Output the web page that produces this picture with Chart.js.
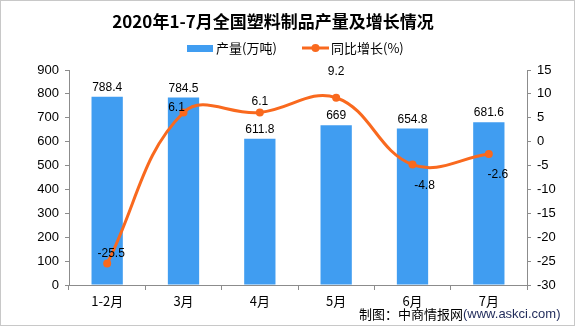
<!DOCTYPE html>
<html>
<head>
<meta charset="utf-8">
<script src="https://cdn.jsdelivr.net/npm/chart.js@4.4.1/dist/chart.umd.min.js"></script>
<style>
  html, body { margin: 0; padding: 0; background: #fff; }
  #wrap { width: 575px; height: 326px; position: relative; }
</style>
</head>
<body>
<div id="wrap"><canvas id="chart" width="575" height="326"></canvas></div>
<script>
// --- data ---
const months = ['1-2月', '3月', '4月', '5月', '6月', '7月'];
const output = [788.4, 784.5, 611.8, 669, 654.8, 681.6];   // 产量(万吨)
const growth = [-25.5, 6.1, 6.1, 9.2, -4.8, -2.6];         // 同比增长(%)
const leftTicks = [0, 900, 100];
const rightTicks = [-30, 15, 5];

const BLUE = '#409DF1';
const ORANGE = '#F9691E';
const AXIS = '#8c8c8c';
const CJK = '"Noto Sans CJK SC", "Liberation Sans", sans-serif';
const NUM = '"Liberation Sans", Arial, sans-serif';

// label nudges for the growth values (px)
const growthLabelShift = [[4, -10], [-7, -5], [0, -11], [0, -26], [12, 21], [9, 21]];

// background, border, title, legend, source
const decor = {
    id: 'decor',
    beforeDraw(chart) {
        const c = chart.ctx;
        c.save();
        c.fillStyle = '#fff';
        c.fillRect(0, 0, chart.width, chart.height);
        c.restore();
    },
    afterDraw(chart) {
        const c = chart.ctx;
        c.save();
        c.strokeStyle = '#c8c8c8';
        c.lineWidth = 1;
        c.strokeRect(0.5, 0.5, chart.width - 1, chart.height - 1);

        c.fillStyle = '#000';
        c.textAlign = 'center';
        c.textBaseline = 'middle';
        c.font = 'bold 17px ' + CJK;
        c.fillText('2020年1-7月全国塑料制品产量及增长情况', 273, 22);

        // legend
        c.font = '13px ' + CJK;
        c.textAlign = 'left';
        c.fillStyle = BLUE;
        c.fillRect(187, 45, 26, 7);
        c.fillStyle = '#000';
        c.fillText('产量(万吨)', 216, 48);
        c.strokeStyle = ORANGE;
        c.lineWidth = 3;
        c.beginPath(); c.moveTo(302, 48); c.lineTo(329, 48); c.stroke();
        c.fillStyle = ORANGE;
        c.beginPath(); c.arc(315.5, 48, 4, 0, Math.PI * 2); c.fill();
        c.fillStyle = '#000';
        c.fillText('同比增长(%)', 331, 48);

        // source
        c.font = '13px ' + CJK;
        const s1 = '制图：中商情报网';
        c.fillText(s1, 359, 314);
        const w = c.measureText(s1).width;
        c.fillStyle = '#1f2a5a';
        c.font = '13px ' + NUM;
        c.fillText('(www.askci.com)', 359 + w, 314);
        c.restore();
    }
};

// value labels
const valueLabels = {
    id: 'valueLabels',
    afterDatasetsDraw(chart) {
        const c = chart.ctx;
        c.save();
        c.font = '12px ' + NUM;
        c.fillStyle = '#000';
        c.textAlign = 'center';
        c.textBaseline = 'middle';
        chart.getDatasetMeta(1).data.forEach((bar, i) => {
            c.fillText(String(output[i]), bar.x, bar.y - 9);
        });
        chart.getDatasetMeta(0).data.forEach((pt, i) => {
            const s = growthLabelShift[i];
            c.fillText(String(growth[i]), pt.x + s[0], pt.y + s[1]);
        });
        c.restore();
    }
};

new Chart(document.getElementById('chart'), {
    data: {
        labels: months,
        datasets: [
            {
                type: 'line',
                label: '同比增长(%)',
                data: growth,
                yAxisID: 'y1',
                borderColor: ORANGE,
                backgroundColor: ORANGE,
                borderWidth: 3,
                tension: 0.4,
                pointRadius: 4,
                pointBackgroundColor: ORANGE,
                pointBorderWidth: 0,
                order: 0
            },
            {
                type: 'bar',
                label: '产量(万吨)',
                data: output,
                yAxisID: 'y',
                backgroundColor: BLUE,
                categoryPercentage: 1,
                barPercentage: 0.41,
                order: 1
            }
        ]
    },
    options: {
        responsive: false,
        animation: false,
        layout: { padding: { top: 70, left: 0, right: 0, bottom: 0 } },
        plugins: { legend: { display: false }, title: { display: false }, tooltip: { enabled: false } },
        scales: {
            x: {
                offset: true,
                grid: { offset: true, drawOnChartArea: false, drawTicks: true, tickLength: 5, color: AXIS },
                border: { color: AXIS, width: 1 },
                ticks: { color: '#000', font: { family: CJK, size: 13 }, padding: 3, maxRotation: 0 },
                afterFit(s) { s.height = 41; }
            },
            y: {
                position: 'left',
                min: leftTicks[0], max: leftTicks[1],
                ticks: { stepSize: leftTicks[2], color: '#000', font: { family: NUM, size: 13 }, padding: 6 },
                grid: { drawOnChartArea: false, drawTicks: true, tickLength: 4, color: AXIS },
                border: { color: AXIS, width: 1 },
                afterFit(s) { s.width = 69; }
            },
            y1: {
                position: 'right',
                min: rightTicks[0], max: rightTicks[1],
                ticks: { stepSize: rightTicks[2], color: '#000', font: { family: NUM, size: 13 }, padding: 6 },
                grid: { drawOnChartArea: false, drawTicks: true, tickLength: 4, color: AXIS },
                border: { color: AXIS, width: 1 },
                afterFit(s) { s.width = 48; }
            }
        }
    },
    plugins: [decor, valueLabels]
});
</script>
</body>
</html>
